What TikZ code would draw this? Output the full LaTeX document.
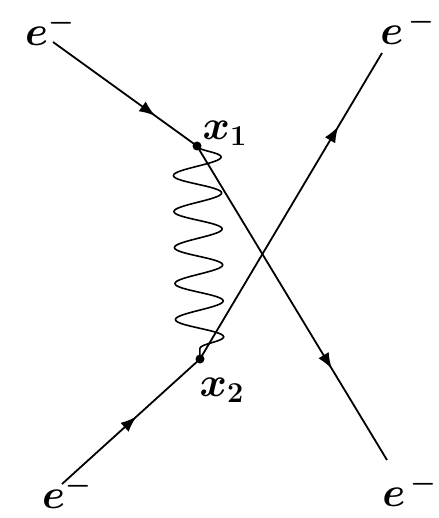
\documentclass[tikz,border=0pt]{standalone}
\usepackage{amsmath}
\usepackage{amssymb}
\usetikzlibrary{arrows.meta,decorations.pathmorphing,decorations.markings}
\tikzset{
  fermion/.style={line width=0.9pt, decoration={markings,
      mark=at position #1 with {\arrow{Latex[length=8pt,width=6pt]}}},
    postaction={decorate}},
  fermion/.default=0.5,
  photon/.style={line width=0.8pt, decorate,
    decoration={snake, amplitude=12pt, segment length=18pt}},
  vertex/.style={circle, fill, inner sep=0pt, minimum size=4.5pt},
  lbl/.style={font=\fontsize{20}{24}\selectfont}
}
\begin{document}
\begin{tikzpicture}[x=0.5pt,y=-0.5pt]
    \useasboundingbox (0,0) rectangle (438,518);
    \node[vertex] (x1) at (197,146) {}; \node[vertex] (x2) at (200,359) {};
    \coordinate (ina) at (53,42); \coordinate (inb) at (62,484);
    \coordinate (outa) at (387,460); \coordinate (outb) at (382,53);
    \draw[photon] (x1.center) -- (x2.center);
    \draw[fermion=0.71] (ina) -- (x1.center);
    \draw[fermion=0.54] (inb) -- (x2.center);
    \draw[fermion=0.76] (x2.center) -- (outb);
    \draw[fermion=0.71] (x1.center) -- (outa);
    \node[lbl] (ea) at (50,29) {$\boldsymbol{e^-}$};
    \node[lbl] (eb) at (67,492) {$\boldsymbol{e^-}$};
    \node[lbl] (ec) at (408,28) {$\boldsymbol{e^{\,-}}$};
    \node[lbl] (ed) at (410,490) {$\boldsymbol{e^{\,-}}$};
    \node[lbl] (lx1) at (225,133) {$\boldsymbol{x_1}$};
    \node[lbl] (lx2) at (222,390) {$\boldsymbol{x_2}$};
  \end{tikzpicture}
\end{document}
